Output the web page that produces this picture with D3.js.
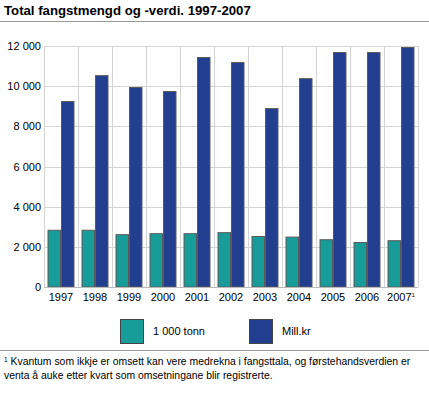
<!DOCTYPE html>
<html>
<head>
<meta charset="utf-8">
<script src="https://cdn.jsdelivr.net/npm/d3@7"></script>
<style>
  body { margin: 0; background: #fff; }
  svg { font-family: "Liberation Sans", Arial, sans-serif; display: block; }
</style>
</head>
<body>
<script>
// data
let years = ['1997', '1998', '1999', '2000', '2001', '2002', '2003', '2004', '2005', '2006', '2007'];
let tonnes = [2850, 2850, 2630, 2680, 2680, 2730, 2540, 2510, 2380, 2240, 2330];
let value = [9260, 10550, 9960, 9760, 11450, 11200, 8910, 10400, 11700, 11700, 11950];
let seriesNames = ['1 000 tonn', 'Mill.kr'];
let colors = ['#179c99', '#223f8f'];
let yTicks = [0, 2000, 4000, 6000, 8000, 10000, 12000];

let width = 429;
let height = 396;
let plot = { left: 44, right: 418, top: 46, bottom: 287 };

let svg = d3.select('body').append('svg')
   .attr('width', width)
   .attr('height', height);

// title + rule
svg.append('text')
   .attr('x', 4).attr('y', 15)
   .attr('font-size', '13.2px')
   .attr('font-weight', 'bold')
   .attr('fill', '#000')
   .text('Total fangstmengd og -verdi. 1997-2007');
svg.append('line')
   .attr('x1', 0).attr('x2', width)
   .attr('y1', 21.5).attr('y2', 21.5)
   .attr('stroke', '#999');

let x0 = d3.scaleBand().domain(years).range([plot.left, plot.right]);
let x1 = d3.scaleBand().domain(seriesNames).range([0, x0.step()]).paddingOuter(0.26);
let y = d3.scaleLinear().domain([0, 12000]).range([plot.bottom, plot.top]);

// gridlines
svg.append('g').selectAll('line.h')
   .data(yTicks)
   .enter().append('line')
   .attr('x1', plot.left).attr('x2', plot.right)
   .attr('y1', d => Math.round(y(d)) + 0.5).attr('y2', d => Math.round(y(d)) + 0.5)
   .attr('stroke', '#d4d4d4');
svg.append('g').selectAll('line.v')
   .data(years.concat(['end']))
   .enter().append('line')
   .attr('x1', (d, i) => Math.round(plot.left + i * x0.step()) + 0.5)
   .attr('x2', (d, i) => Math.round(plot.left + i * x0.step()) + 0.5)
   .attr('y1', plot.top).attr('y2', plot.bottom)
   .attr('stroke', '#d4d4d4');

// y axis labels
let fmt = d => d === 0 ? '0' : d3.format(',')(d).replace(',', ' ');
svg.append('g').selectAll('text')
   .data(yTicks)
   .enter().append('text')
   .attr('x', 41)
   .attr('y', d => y(d) + 4)
   .attr('text-anchor', 'end')
   .attr('font-size', '11px')
   .attr('fill', '#000')
   .text(fmt);

// bars
let rows = years.map((yr, i) => ({ year: yr, vals: [tonnes[i], value[i]] }));
let group = svg.append('g').selectAll('g')
   .data(rows)
   .enter().append('g')
   .attr('transform', d => 'translate(' + x0(d.year) + ',0)');
group.selectAll('rect')
   .data(d => d.vals.map((v, j) => ({ key: seriesNames[j], v: v, j: j })))
   .enter().append('rect')
   .attr('x', d => x1(d.key) + 0.5)
   .attr('y', d => y(d.v) + 0.5)
   .attr('width', x1.bandwidth() - 1)
   .attr('height', d => plot.bottom - y(d.v) - 0.5)
   .attr('fill', d => colors[d.j])
   .attr('stroke', '#5a5a5a')
   .attr('stroke-width', 1);

// baseline
svg.append('line')
   .attr('x1', plot.left).attr('x2', plot.right)
   .attr('y1', plot.bottom + 0.5).attr('y2', plot.bottom + 0.5)
   .attr('stroke', '#bbb');

// x labels
let xl = svg.append('g').selectAll('text')
   .data(years)
   .enter().append('text')
   .attr('x', d => x0(d) + x0.bandwidth() / 2)
   .attr('y', 301)
   .attr('text-anchor', 'middle')
   .attr('font-size', '11px')
   .attr('fill', '#000');
xl.append('tspan').text(d => d);
xl.filter(d => d === '2007').append('tspan')
   .attr('font-size', '6px').attr('dy', -4).text('1');

// legend
let legend = svg.append('g');
let legendX = [120, 249];
seriesNames.forEach((name, i) => {
   legend.append('rect')
      .attr('x', legendX[i] + 0.5).attr('y', 319.5)
      .attr('width', 23).attr('height', 24)
      .attr('fill', colors[i])
      .attr('stroke', '#444');
   legend.append('text')
      .attr('x', legendX[i] + 33).attr('y', 335)
      .attr('font-size', '11px')
      .attr('fill', '#000')
      .text(name);
});

svg.append('line')
   .attr('x1', 0).attr('x2', width)
   .attr('y1', 350.5).attr('y2', 350.5)
   .attr('stroke', '#999');

// footnote
let foot = svg.append('text')
   .attr('x', 4).attr('y', 365)
   .attr('font-size', '10.4px')
   .attr('fill', '#000');
foot.append('tspan').attr('font-size', '6.5px').attr('dy', -3).text('1');
foot.append('tspan').attr('dy', 3).text(' Kvantum som ikkje er omsett kan vere medrekna i fangsttala, og førstehandsverdien er');
svg.append('text')
   .attr('x', 4).attr('y', 379)
   .attr('font-size', '10.4px')
   .attr('fill', '#000')
   .text('venta å auke etter kvart som omsetningane blir registrerte.');
</script>
</body>
</html>
